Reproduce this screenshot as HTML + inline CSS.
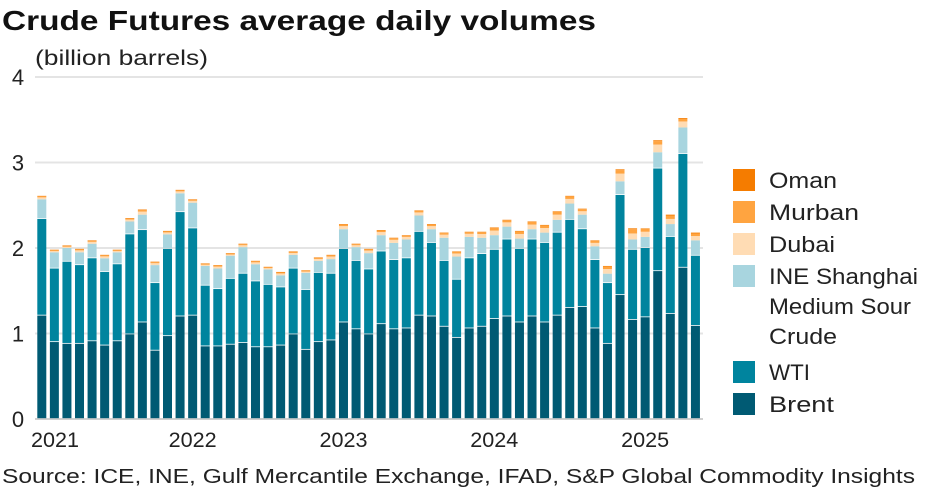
<!DOCTYPE html>
<html><head><meta charset="utf-8">
<style>
body{margin:0;background:#fff;font-family:"Liberation Sans",sans-serif;}
#wrap{position:relative;width:934px;height:493px;overflow:hidden;}
</style></head>
<body>
<div id="wrap">
<svg id="chart" width="934" height="493" xmlns="http://www.w3.org/2000/svg">
<text x="2" y="30" font-size="28" font-weight="bold" fill="#111" textLength="594" lengthAdjust="spacingAndGlyphs" font-family="Liberation Sans, sans-serif">Crude Futures average daily volumes</text>
<text x="35" y="65" font-size="21" fill="#222" textLength="173" lengthAdjust="spacingAndGlyphs" font-family="Liberation Sans, sans-serif">(billion barrels)</text>
<g id="grid"></g>
<g id="bars"></g>
<g id="xlabels"></g>
<g id="legend"></g>
<text x="2" y="483" font-size="20" fill="#222" textLength="913" lengthAdjust="spacingAndGlyphs" font-family="Liberation Sans, sans-serif">Source: ICE, INE, Gulf Mercantile Exchange, IFAD, S&amp;P Global Commodity Insights</text>
</svg>
</div>
<script>
const brent=[1.21,.90,.88,.88,.91,.86,.91,.99,1.13,.80,.97,1.20,1.21,.85,.85,.87,.89,.84,.84,.86,.99,.81,.90,.92,1.13,1.05,.99,1.11,1.05,1.06,1.21,1.20,1.08,.95,1.06,1.08,1.17,1.20,1.13,1.20,1.13,1.21,1.30,1.31,1.06,.88,1.45,1.16,1.19,1.73,1.23,1.77,1.09];
const wti=[1.13,.86,.96,.92,.97,.86,.90,1.17,1.08,.79,1.02,1.22,1.02,.71,.67,.77,.81,.77,.73,.68,.77,.70,.81,.78,.86,.80,.76,.85,.81,.82,.98,.86,.77,.68,.82,.85,.81,.90,.86,.90,.93,.97,1.03,.91,.80,.71,1.17,.82,.81,1.20,.90,1.33,.82];
const ine=[.23,.19,.16,.15,.17,.16,.14,.15,.18,.21,.17,.22,.30,.23,.24,.27,.31,.20,.18,.14,.16,.20,.14,.17,.23,.16,.19,.19,.20,.22,.19,.16,.27,.27,.25,.19,.17,.15,.12,.12,.12,.15,.19,.17,.16,.11,.16,.12,.13,.19,.15,.31,.18];
const dubai=[.022,.014,.014,.022,.022,.022,.014,.022,.036,.022,.022,.022,.022,.014,.022,.014,.022,.022,.014,.022,.022,.014,.022,.03,.036,.022,.03,.036,.036,.03,.036,.036,.036,.036,.036,.044,.054,.05,.054,.054,.054,.06,.054,.04,.04,.054,.09,.07,.06,.09,.06,.07,.05];
const murban=[.012,.01,.01,.012,.012,.012,.01,.012,.018,.012,.012,.012,.012,.01,.012,.01,.012,.012,.01,.012,.012,.01,.012,.014,.018,.012,.014,.018,.018,.014,.018,.018,.018,.018,.018,.02,.03,.024,.03,.03,.03,.034,.03,.024,.024,.03,.04,.05,.034,.04,.04,.03,.03];
const oman=[.006,.006,.006,.006,.006,.006,.006,.006,.006,.006,.006,.006,.006,.006,.006,.006,.006,.006,.006,.006,.006,.006,.006,.006,.006,.006,.006,.006,.006,.006,.006,.006,.006,.006,.006,.006,.006,.006,.006,.006,.006,.006,.006,.006,.006,.006,.01,.01,.006,.01,.01,.01,.01];
const yTicks=[0,1,2,3,4];
const yearLabels=["2021","2022","2023","2024","2025"];
const yearIndex=[1,12,24,36,48];
const seriesNames=["Brent","WTI","INE Shanghai Medium Sour Crude","Dubai","Murban","Oman"];
const colors=["#005a73","#00849e","#a8d5df","#ffdcb4","#ffa440","#f57c00"];
const NS="http://www.w3.org/2000/svg";
const x0=37.3,pitch=12.57,bw=9;
function yS(v){return 419-v*85.5;}
function xS(i){return x0+i*pitch;}
function mk(tag,attrs,parent){const e=document.createElementNS(NS,tag);for(const k in attrs)e.setAttribute(k,attrs[k]);parent.appendChild(e);return e;}
const grid=document.getElementById('grid');
yTicks.forEach(t=>{
  const l=mk('line',{x1:35,x2:703,y1:yS(t),y2:yS(t),stroke:t===0?'#cfcfcf':'#e4e4e4','stroke-width':2},grid);
  
  
  const tx=mk('text',{x:18,y:yS(t)+8,'font-size':22,fill:'#222','text-anchor':'middle','font-family':'Liberation Sans, sans-serif'},grid);
  tx.textContent=t;
  
  
});
const series=[brent,wti,ine,dubai,murban,oman];
const bars=document.getElementById('bars');
for(let i=0;i<brent.length;i++){
  let cum=0;
  series.forEach((s,k)=>{
    const v=s[i];
    const r=mk('rect',{x:xS(i),y:yS(cum+v),width:bw,height:Math.max(0,v*85.5-(k<3?0.8:0)),fill:colors[k]},bars);
    
    
    cum+=v;
  });
}
const xl=document.getElementById('xlabels');
yearLabels.forEach((y,j)=>{
  const cx=j===0?55:xS(yearIndex[j])+bw/2;
  const t=mk('text',{x:cx,y:447,'font-size':21,fill:'#222','text-anchor':'middle',textLength:48,lengthAdjust:'spacingAndGlyphs','font-family':'Liberation Sans, sans-serif'},xl);
  t.textContent=y;
  
  
});
const lg=document.getElementById('legend');
const legendItems=[["Oman",5,[180]],["Murban",4,[212]],["Dubai",3,[244]],["INE Shanghai",2,[276,306,336]],["WTI",1,[372]],["Brent",0,[404]]];
const ineLines=["INE Shanghai","Medium Sour","Crude"];
const widths={"Oman":68,"Murban":90,"Dubai":66,"INE Shanghai":149,"Medium Sour":142,"Crude":68,"WTI":41,"Brent":65};
legendItems.forEach(it=>{
  const ys=it[2];
  const r=mk('rect',{x:733,y:ys[0]-11,width:22,height:22,fill:colors[it[1]]},lg);
  
  
  const lines=ys.length>1?ineLines:[it[0]];
  lines.forEach((ln,j)=>{
    const t=mk('text',{x:769,y:ys[j]+8,'font-size':22,fill:'#222',textLength:widths[ln],lengthAdjust:'spacingAndGlyphs','font-family':'Liberation Sans, sans-serif'},lg);
    t.textContent=ln;
    
    
  });
});
</script>
</body></html>
